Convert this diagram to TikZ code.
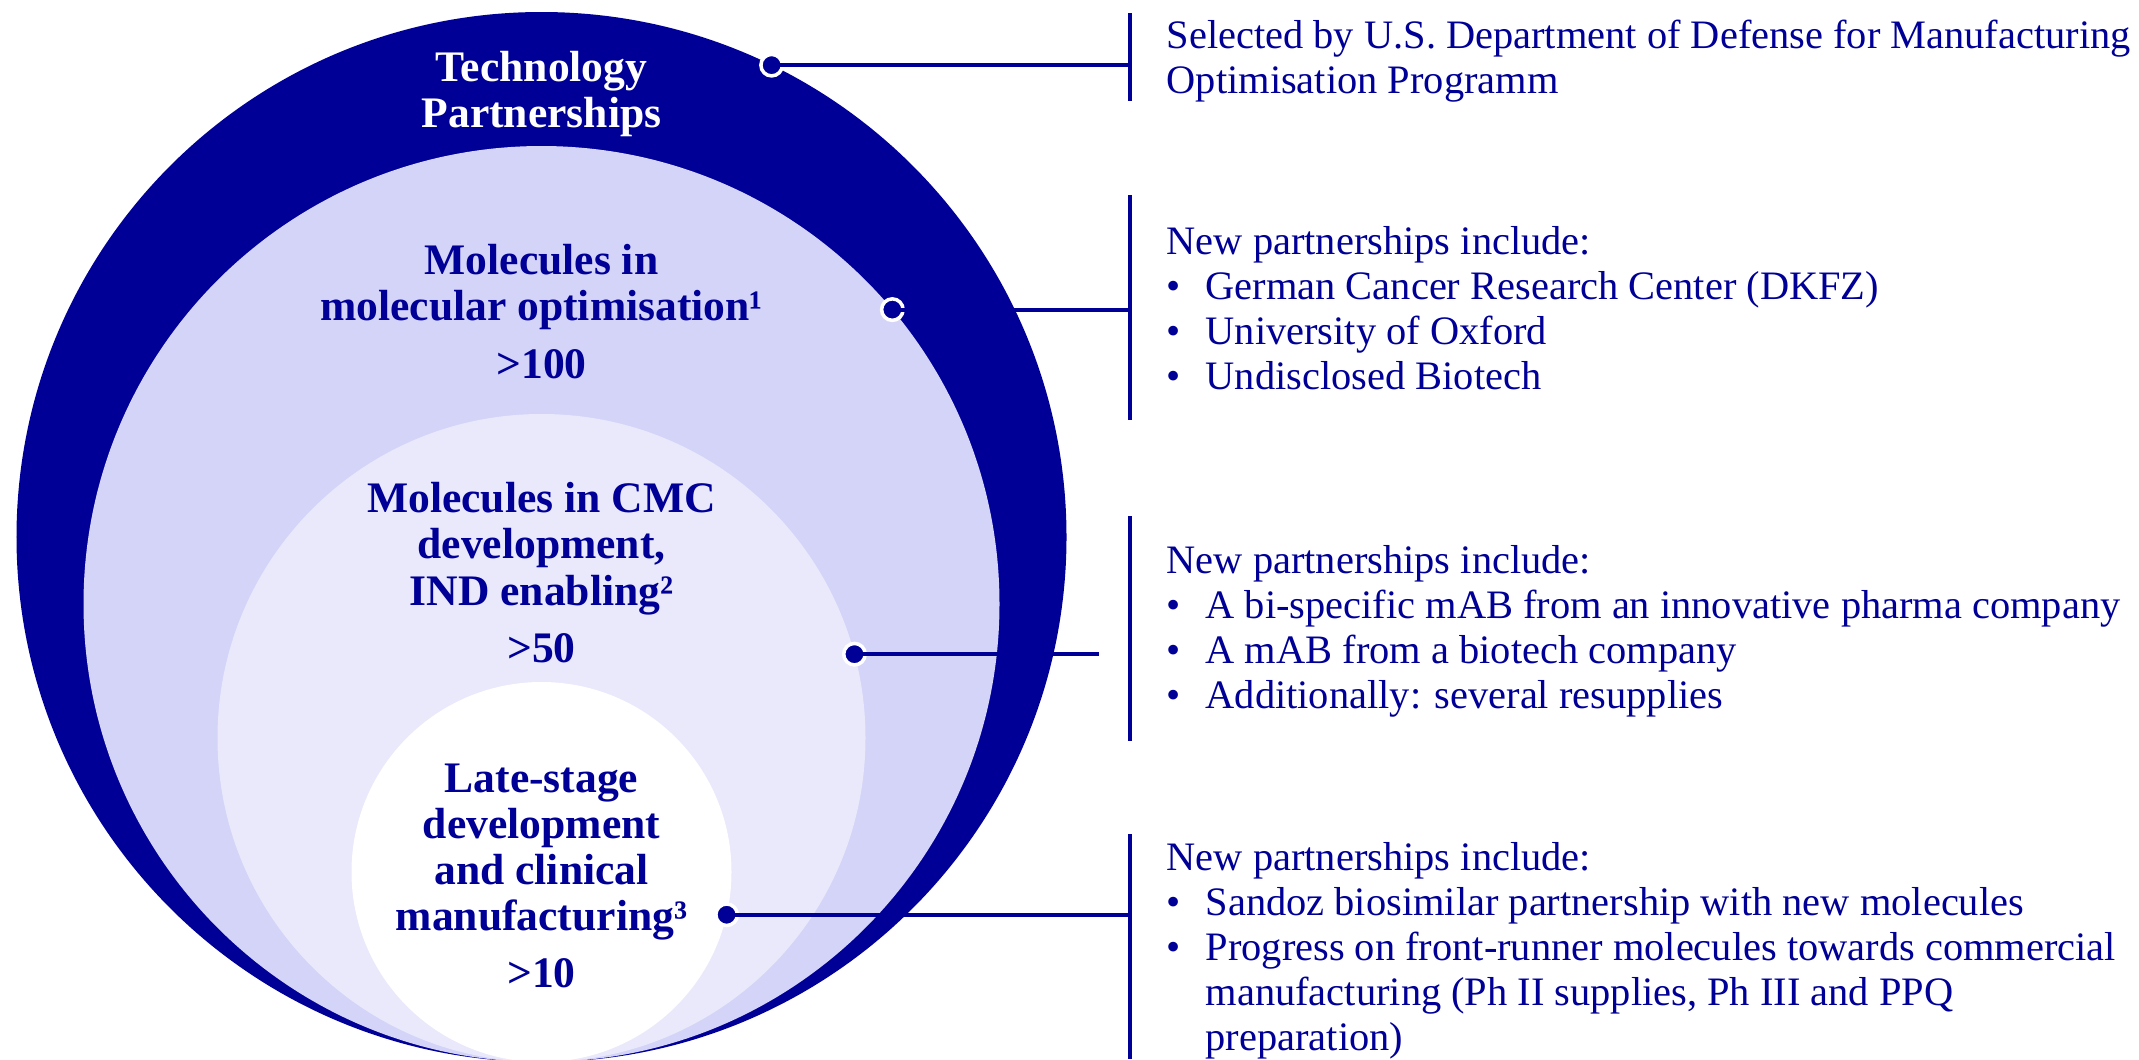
\documentclass[tikz,border=0pt]{standalone}
\usepackage{fontspec}
\setmainfont{Liberation Serif}
\definecolor{navy}{RGB}{0,0,150}
\definecolor{lavender}{RGB}{212,212,249}
\definecolor{pale}{RGB}{233,233,251}
\usetikzlibrary{positioning, calc}

\tikzset{
  disc/.style={circle, inner sep=0pt, outer sep=0pt, anchor=south},
  stage/.style={text=navy, align=center, inner sep=0pt, font=\bfseries\fontsize{12.4}{13.1}\selectfont},
  dot/.style={circle, fill=navy, draw=white, line width=1pt, minimum size=0.215cm, inner sep=0pt},
  link/.style={navy, line width=1.1pt},
  bar/.style={navy, line width=1pt},
  note/.style={text=navy, align=left, inner sep=0pt, anchor=north west, font=\fontsize{11.5}{12.85}\selectfont}
}
\newcommand{\bul}{\makebox[0.39cm][l]{\textbullet}}

\begin{document}
\begin{tikzpicture}
  \useasboundingbox (0,0) rectangle (21.39,-10.59);

  % nested circles, all touching at the bottom
  \coordinate (base) at (5.415,-10.62);
  \node[disc, fill=navy, minimum size=10.5cm] (tech) at (base) {};
  \node[disc, fill=lavender, minimum size=9.16cm] (optim) at (base) {};
  \node[disc, fill=pale, minimum size=6.48cm] (cmc) at (base) {};
  \node[disc, fill=white, minimum size=3.8cm] (late) at (base) {};

  \node[stage, text=white, below=0.39cm of tech.north] (techlbl) {Technology\\Partnerships};
  \node[stage, below=0.98cm of optim.north] (optimlbl) {Molecules in\\molecular optimisation¹\\[3.2pt]>100};
  \node[stage, below=0.68cm of cmc.north] (cmclbl) {Molecules in CMC\\development,\\IND enabling²\\[3.2pt]>50};
  \node[stage, below=0.81cm of late.north] (latelbl) {Late-stage\\development\\and clinical\\manufacturing³\\[3.2pt]>10};

  % brackets on the right
  \foreach \name/\top/\bot in {bar1/-0.13/-1.01, bar2/-1.95/-4.20, bar3/-5.16/-7.41, bar4/-8.34/-10.59}
    \draw[bar] (11.30,\top) coordinate (\name) -- (11.30,\bot);

  \node[dot] (d1) at (tech.64) {};
  \node[dot] (d2) at (optim.40) {};
  \node[dot] (d3) at (cmc.15.5) {};
  \node[dot] (d4) at (late.-13.4) {};

  \draw[link] (d1.center) -- (d1 -| bar1);
  \draw[link] (d2.center) -- (d2 -| bar2);
  \draw[link] (d3.center) -- ($(d3 -| bar3)+(-0.31,0)$);
  \draw[link] (d4.center) -- (d4 -| bar4);

  \node[note] (n1) at (11.66,-0.19) {Selected by U.S. Department of Defense for Manufacturing\\Optimisation Programm};
  \node[note] (n2) at (11.66,-2.255) {New partnerships include:\\\bul German Cancer Research Center (DKFZ)\\\bul University of Oxford\\\bul Undisclosed Biotech};
  \node[note] (n3) at (11.66,-5.445) {New partnerships include:\\\bul A bi-specific mAB from an innovative pharma company\\\bul A mAB from a biotech company\\\bul Additionally: several resupplies};
  \node[note] (n4) at (11.66,-8.415) {New partnerships include:\\\bul Sandoz biosimilar partnership with new molecules\\\bul Progress on front-runner molecules towards commercial\\\hspace*{0.39cm}manufacturing (Ph II supplies, Ph III and PPQ\\\hspace*{0.39cm}preparation)};
\end{tikzpicture}
\end{document}
